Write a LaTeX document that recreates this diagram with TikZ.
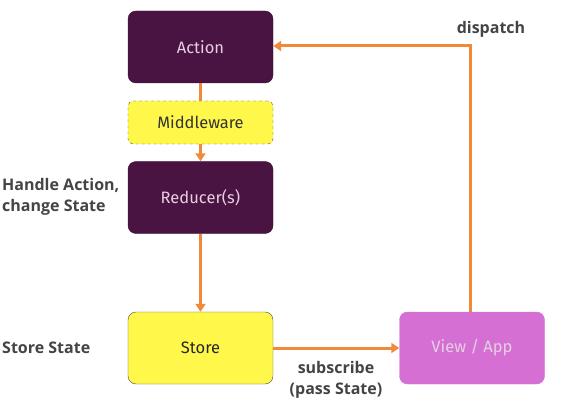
\documentclass[tikz,border=0pt]{standalone}
\usepackage{fontspec}
\setmainfont{Fira Sans}
\newfontfamily\lblfont{Open Sans}
\usetikzlibrary{arrows.meta}
\definecolor{dpurple}{HTML}{4A1442}
\definecolor{myyellow}{HTML}{FFF84A}
\definecolor{violet2}{HTML}{D56FD4}
\definecolor{arrorange}{HTML}{F08A3A}
\definecolor{lighttext}{HTML}{E6CFE2}
\definecolor{labelgray}{HTML}{444444}
\begin{document}
\begin{tikzpicture}[x=1pt,y=-1pt,
  box/.style={rounded corners=8pt, minimum width=145pt, minimum height=72pt, font=\fontsize{16.5}{18}\selectfont, inner sep=0pt},
  darkbox/.style={box, fill=dpurple, draw=dpurple!80!black, text=lighttext},
  flow/.style={draw=arrorange, line width=3pt, -{Triangle[length=8pt,width=10pt]}},
  lbl/.style={font=\lblfont\bfseries\fontsize{16}{21}\selectfont, text=labelgray, align=left, inner sep=1pt}]
\useasboundingbox (0,0) rectangle (583,406);
\node[darkbox] (action) at (200.5,47) {Action};
\node[box, minimum height=43pt, fill=myyellow, draw=black!70, dashed, line width=0.4pt, text=black!80, rounded corners=5pt] (mw) at (200.5,122.5) {Middleware};
\node[darkbox] (reducer) at (200.5,197.5) {Reducer(s)};
\node[box, fill=myyellow, draw=black!70, text=black!85] (store) at (200.5,348) {Store};
\node[box, fill=violet2, draw=violet2, text=lighttext] (view) at (472,348) {View / App};
\coordinate (corner) at (470,46);
\draw[draw=arrorange, line width=3pt] (action.south) -- (mw.north);
\draw[flow] (mw.south) -- (reducer.north);
\draw[flow] (reducer.south) -- (store.north);
\draw[flow] (store.east) -- (view.west);
\draw[flow] (view.north -| corner) -- (corner) -- (action.east |- corner);
\node[lbl, anchor=center] (dispatch) at (491,29) {dispatch};
\node[lbl, anchor=west] (handle) at (1,197) {Handle Action,\\change State};
\node[lbl, anchor=west] (storestate) at (1,348) {Store State};
\node[lbl, align=center] (sub) at (336,380) {subscribe\\(pass State)};
\end{tikzpicture}
\end{document}
